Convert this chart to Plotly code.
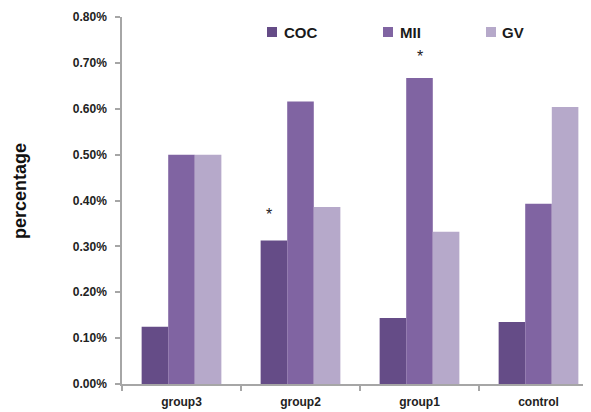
import plotly.graph_objects as go

categories = ["group3", "group2", "group1", "control"]
series_names = ["COC", "MII", "GV"]
coc = [0.00125, 0.00313, 0.00144, 0.00135]
mii = [0.00500, 0.00616, 0.00667, 0.00393]
gv = [0.00500, 0.00386, 0.00332, 0.00604]
colors = ["#654c87", "#8064a2", "#b6a9ca"]
y_ticks = [0, 0.001, 0.002, 0.003, 0.004, 0.005, 0.006, 0.007, 0.008]

# significance markers: (category, y-value, pixel shift)
star_cats = ["group2", "group1"]
star_vals = [0.00373, 0.00718]
star_shift = [-32, 0]

FONT = "Arial, Liberation Sans, sans-serif"

# page body has an 8px margin; target pixel coordinates are page coords
OFF = 8
W, H = 591 - OFF, 412 - OFF
L, T = 122 - OFF, 17 - OFF
BOTTOM = 384 - OFF
B = H - BOTTOM
plot_w, plot_h = W - L, BOTTOM - T

fig = go.Figure()
for name, vals, col in zip(series_names, [coc, mii, gv], colors):
    fig.add_trace(go.Bar(x=categories, y=vals, name=name, marker_color=col,
                         marker_line_width=0, showlegend=False))

annotations = []
for c, v, s in zip(star_cats, star_vals, star_shift):
    annotations.append(dict(x=c, y=v, xref="x", yref="y", text="*", showarrow=False,
                            xshift=s, yanchor="middle", yshift=-2,
                            font=dict(family=FONT, size=16, color="#222")))

# custom legend (page pixel coords)
leg_sq_x = [272, 388, 491]
leg_tx_x = [282, 398, 500]
leg_y = (384 - 32) / plot_h
shapes = []
for name, col, sx, tx in zip(series_names, colors, leg_sq_x, leg_tx_x):
    shapes.append(dict(type="rect", xref="paper", yref="paper",
                       xsizemode="pixel", ysizemode="pixel",
                       xanchor=(sx - 122) / plot_w, yanchor=leg_y,
                       x0=-5, x1=5, y0=-5, y1=5,
                       fillcolor=col, line_width=0))
    annotations.append(dict(x=(tx - 122) / plot_w, y=leg_y, xref="paper", yref="paper",
                            text="<b>" + name + "</b>", showarrow=False,
                            xanchor="left", yanchor="middle",
                            font=dict(family=FONT, size=15, color="#1a1a1a")))

annotations.append(dict(x=(20 - 122) / plot_w, y=(384 - 191) / plot_h,
                        xref="paper", yref="paper", xanchor="center", yanchor="middle",
                        text="<b>percentage</b>", textangle=-90, showarrow=False,
                        font=dict(family=FONT, size=18, color="#111")))

fig.update_layout(
    width=W, height=H,
    margin=dict(l=L, r=0, t=T, b=B, pad=0),
    paper_bgcolor="white", plot_bgcolor="white",
    barmode="group", bargap=0.33, bargroupgap=0,
    font=dict(family=FONT, color="#333"),
    annotations=annotations, shapes=shapes,
    showlegend=False,
)
fig.update_xaxes(range=[-0.5, -0.5 + plot_w / 119], showline=True, linecolor="#a6a6a6",
                 linewidth=1.5, ticks="outside", tickson="boundaries", ticklen=5,
                 tickcolor="#a6a6a6", tickwidth=1.5, showgrid=False,
                 ticklabelstandoff=6,
                 tickfont=dict(family=FONT, size=12, color="#222", weight="bold"))
fig.update_yaxes(range=[0, 0.008], tickvals=y_ticks, tickformat=".2%", showline=True,
                 linecolor="#a6a6a6", linewidth=1.5, ticks="outside", ticklen=5,
                 tickcolor="#a6a6a6", tickwidth=1.5, showgrid=False, zeroline=False,
                 ticklabelstandoff=6,
                 tickfont=dict(family=FONT, size=12, color="#222", weight="bold"))

fig.write_html("out.html")
